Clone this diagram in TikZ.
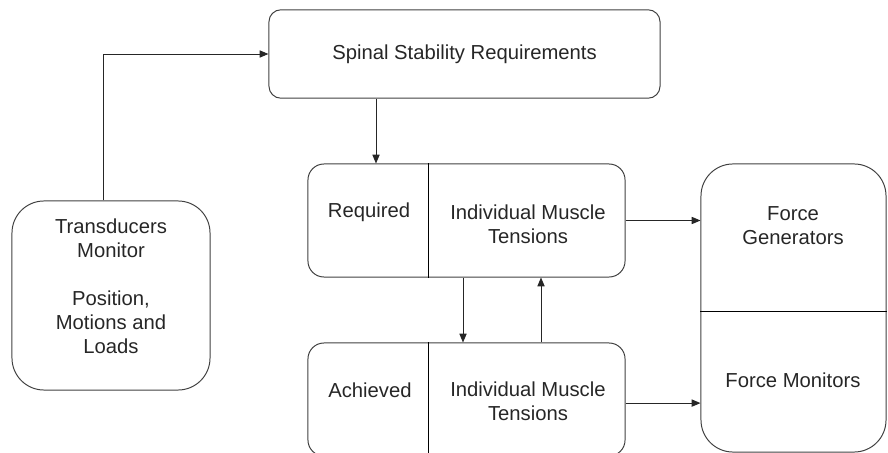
\documentclass[tikz,border=0pt]{standalone}
\usepackage{fontspec}
\setmainfont{Liberation Sans}
\usetikzlibrary{positioning, arrows.meta}

\begin{document}
\begin{tikzpicture}
    [
        x=0.025cm, y=-0.025cm,
        font=\fontsize{14.4}{17}\selectfont,
        round_box/.style={rectangle, draw=black!75, line width=0.7pt, inner sep=0pt},
        box_text/.style={align=center, inner sep=0pt, text=black!85},
        split_line/.style={line width=0.7pt, color=black},
        flow_arrow/.style={-{Triangle[length=2.2mm, width=1.8mm]}, line width=0.7pt, color=black!85},
    ]
        \useasboundingbox (0,0) rectangle (888,453);
        % boxes
        \node[round_box, rounded corners=0.3cm, minimum width=9.775cm, minimum height=2.21cm] (spinal) at (464.5,54) {} ;
        \node[round_box, rounded corners=0.8cm, minimum width=4.95cm, minimum height=4.725cm] (trans) at (111,295.5) {} ;
        \node[round_box, rounded corners=0.4cm, minimum width=7.925cm, minimum height=2.825cm] (req) at (466.5,220.5) {} ;
        \node[round_box, rounded corners=0.4cm, minimum width=7.925cm, minimum height=2.825cm] (ach) at (466.5,399.5) {} ;
        \node[round_box, rounded corners=0.8cm, minimum width=4.625cm, minimum height=7.2cm] (force) at (793.5,308) {} ;
        % texts
        \node[box_text] (spinal_text) at (spinal.center) {Spinal Stability Requirements} ;
        \node[box_text] (trans_text) at (111,286) {Transducers\\Monitor\\[17pt]Position,\\Motions and\\Loads} ;
        \node[box_text] (req_label) at (369,212) {Required} ;
        \node[box_text] (req_tension) at (528,224) {Individual Muscle\\Tensions} ;
        \node[box_text] (ach_label) at (370,390) {Achieved} ;
        \node[box_text] (ach_tension) at (528,401.5) {Individual Muscle\\Tensions} ;
        \node[box_text] (force_gen) at (793,226) {Force\\Generators} ;
        \node[box_text] (force_mon) at (793,380) {Force Monitors} ;
        % dividers
        \coordinate (col_split) at (428,0) ;
        \coordinate (force_split) at (0,311) ;
        \draw[split_line] (req.north -| col_split) -- (req.south -| col_split) ;
        \draw[split_line] (ach.north -| col_split) -- (ach.south -| col_split) ;
        \draw[split_line] (force.west |- force_split) -- (force.east |- force_split) ;
        % connectors
        \coordinate (feed) at (103,0) ;
        \coordinate (drop) at (376,0) ;
        \coordinate (down_link) at (463,0) ;
        \coordinate (up_link) at (541,0) ;
        \draw[flow_arrow] (trans.north -| feed) |- (spinal.west) ;
        \draw[flow_arrow] (spinal.south -| drop) -- (req.north -| drop) ;
        \draw[flow_arrow] (req.south -| down_link) -- (ach.north -| down_link) ;
        \draw[flow_arrow] (ach.north -| up_link) -- (req.south -| up_link) ;
        \draw[flow_arrow] (req.east) -- (req.east -| force.west) ;
        \draw[flow_arrow] ([yshift=-0.09cm]ach.east) -- ([yshift=-0.09cm]ach.east -| force.west) ;
    \end{tikzpicture}
\end{document}
